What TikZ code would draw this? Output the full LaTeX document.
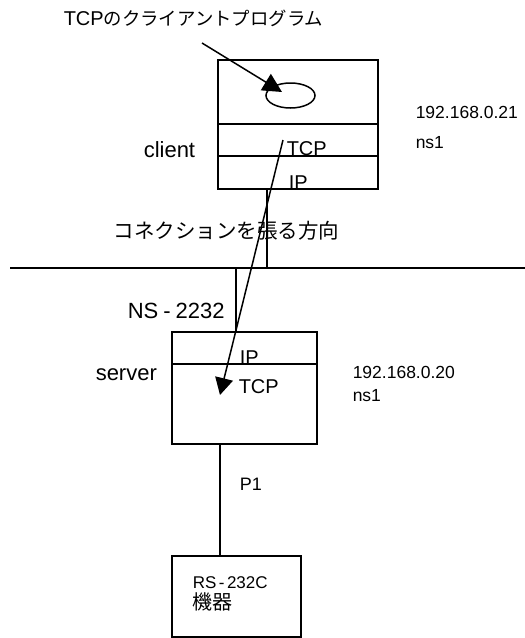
\documentclass[tikz,border=0pt]{standalone}
\usepackage{fontspec}
\setmainfont{Liberation Sans}
\newfontfamily\jp{Noto Sans CJK JP}
\usetikzlibrary{arrows.meta,shapes.geometric}
\begin{document}
\begin{tikzpicture}[x=1pt,y=-1pt,line width=1.5pt,
  box/.style={draw,inner sep=0pt,rectangle},
  txt/.style={inner sep=0pt,anchor=base west},
  fs/.style={font=\fontsize{#1pt}{#1pt}\selectfont},
  bigtip/.style={-{Triangle[length=19pt,width=19pt]}}]
\useasboundingbox (0,0) rectangle (525,638);
% client host
\node[box,minimum width=160pt,minimum height=129pt] (cbox) at (298,124.5) {};
\draw (218,124) -- (378,124);
\draw (218,156) -- (378,156);
\node[draw,ellipse,minimum width=49pt,minimum height=25pt,inner sep=0pt] (prog) at (290.5,95.5) {};
% server host
\node[box,minimum width=145pt,minimum height=112pt] (sbox) at (244.5,388) {};
\draw (172,364) -- (317,364);
% device
\node[box,minimum width=129pt,minimum height=81pt] (dev) at (236.5,596.5) {};
% network
\coordinate (netL) at (10,268);
\coordinate (netR) at (525,268);
\draw (netL) -- (netR);
\coordinate (cnet) at (267,268);
\coordinate (snet) at (236,268);
\draw (cbox.south -| cnet) -- (cnet);
\draw (snet) -- (sbox.north -| snet);
\coordinate (dx) at (220,0);
\draw (sbox.south -| dx) -- (dev.north -| dx);
% labels
\node[txt,fs=20] (prglbl) at (63,25.5) {TCP{\jp\fontsize{18.4pt}{20pt}\selectfont のクライアントプログラム}};
\coordinate (prgfrom) at (202,43);
\coordinate (prgtip) at (282,92);
\draw[bigtip] (prgfrom) -- (prgtip);
\node[txt,fs=22] (clbl) at (143,157) {client};
\node[txt,fs=20] (ctcp) at (286,155) {TCP};
\node[txt,fs=20] (cip) at (288,189) {IP};
\node[txt,fs=17.5] (cadr) at (415,118) {192.168.0.21};
\node[txt,fs=17.5] (cns) at (415,148) {ns1};
\node[txt,fs=20.5] (dir) at (113,238) {\jp コネクションを張る方向};
\node[txt,fs=22] (ns) at (127,318) {NS\hspace{5pt}-\hspace{5pt}2232};
\node[txt,fs=22] (slbl) at (95,380) {server};
\node[txt,fs=20] (sip) at (239,364) {IP};
\node[txt,fs=20] (stcp) at (238,393) {TCP};
\node[txt,fs=17.5] (sadr) at (352,378) {192.168.0.20};
\node[txt,fs=17.5] (sns) at (352,401) {ns1};
\node[txt,fs=18] (p1) at (239,490) {P1};
\node[txt,fs=17] (rs) at (192,588) {RS\hspace{2.5pt}-\hspace{2.5pt}232C};
\node[txt,fs=20] (kiki) at (192,609) {\jp 機器};
\coordinate (connfrom) at (283,140);
\coordinate (conntip) at (220,395);
\draw[-{Triangle[length=17pt,width=18pt]}] (connfrom) -- (conntip);
\end{tikzpicture}
\end{document}
